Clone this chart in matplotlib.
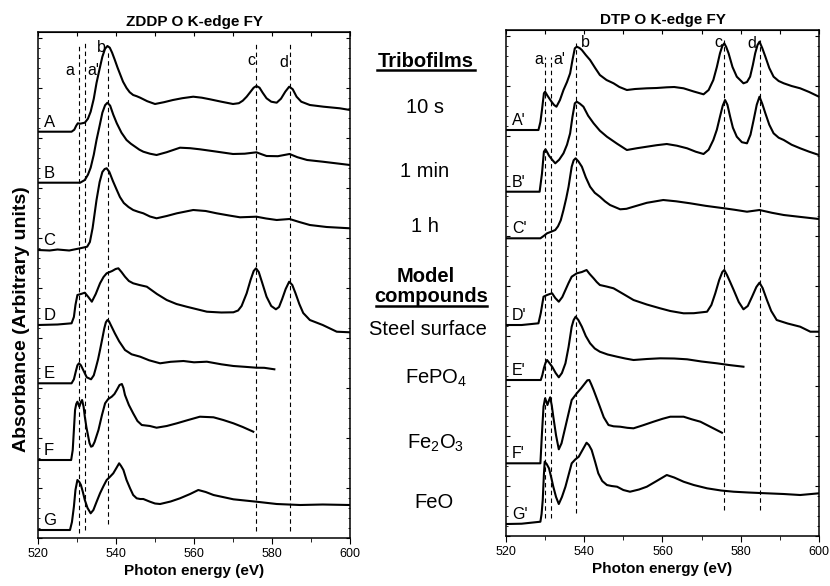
# coding=utf-8
"""
O K-edge FY XANES spectra of ZDDP and DTP tribofilms and model compounds
"""

import matplotlib
matplotlib.use('Agg')
import matplotlib.pyplot as plt
from matplotlib.lines import Line2D
from matplotlib.ticker import MultipleLocator

plt.rcParams['font.family'] = ['Liberation Sans', 'DejaVu Sans']
plt.rcParams['mathtext.fontset'] = 'custom'
plt.rcParams['mathtext.rm'] = 'Liberation Sans'

#  ZDDP spectra (energy in eV, signal above baseline, arbitrary units)
A_e = [520, 525, 528.6, 529.3, 529.8, 530.2, 530.8, 532, 532.8, 533.5, 534.3, 535, 535.8,
       536.5, 537.2, 537.8, 538.4, 539, 539.7, 540.4, 541, 541.8, 542.7, 543.5, 544.4,
       545.3, 546.2, 548, 550, 552.3, 554.6, 557, 559.8, 562, 564.1, 567, 570, 571.5,
       572.5, 573.5, 574.5, 575.3, 576, 576.8, 577.6, 578.6, 579.8, 581.2, 582.3, 583.4,
       584.4, 585.3, 586.3, 587.5, 589.7, 593.2, 597.4, 600]
A_s = [0, 0, 0, 2, 6, 8.4, 8, 9, 13, 20, 33, 48.7, 63,
       75, 83, 85.7, 84, 79, 71.7, 64, 58, 50, 43.7, 39.5, 36.7,
       35.5, 34, 30.5, 27.7, 29.5, 31.7, 33.5, 35, 34, 32.4, 30, 27.7, 28.5,
       31, 35, 40, 44, 45.7, 44, 39, 33.4, 30, 29, 33, 40,
       45, 42.5, 35, 30, 26.7, 25, 23.4, 21.7]
B_e = [520, 525, 530.8, 532, 532.8, 533.5, 534.3, 535, 535.8, 536.5, 537.2, 537.8, 538.5,
       539.3, 540.2, 541.4, 542.7, 543.8, 544.9, 546, 547, 548.7, 550.4, 553, 556.4,
       559, 561.5, 565, 570, 573, 576, 577.3, 578.6, 581.5, 584.5, 586.5, 589, 593, 600]
B_s = [0, 0, 0, 2.7, 8, 15, 28, 42.7, 57, 70, 77.5, 80, 77,
       68, 59.4, 50, 42.7, 39, 36, 33, 31, 29, 27.7, 30.5, 35,
       34.5, 33.4, 31.5, 28.7, 29, 30.4, 28.5, 26.7, 26.5, 28.7, 25.5, 22.7, 21, 17.7]
C_e = [520, 523, 525, 528, 530.8, 532.6, 533.3, 534, 535, 535.8, 536.5, 537.1, 537.6,
       538.3, 539.2, 540.2, 541, 542, 543.2, 544.4, 545.7, 547, 548.7, 550.4, 553,
       555.6, 559.8, 563, 565.8, 569, 571.8, 576, 578.5, 581.2, 584.5, 587, 589.7, 594, 600]
C_s = [0, -0.5, 0.5, -0.5, 1.7, 3.3, 8, 22, 50, 68, 78, 81, 81.7,
       78, 69, 60, 53, 47, 43, 40, 38.2, 36.7, 33.5, 31.7, 34,
       36.7, 40, 39, 36.7, 34.5, 32.7, 33.3, 31.5, 30, 31, 28, 25, 23, 21.7]
D_e = [520, 525, 528.6, 529.2, 529.6, 530.1, 531, 532, 532.9, 533.8, 534.8, 535.9, 536.8,
       537.6, 539, 539.9, 540.6, 541.4, 542.3, 543.3, 544.4, 546, 547.9, 550.5, 553,
       555.5, 558.1, 563.3, 567, 570.1, 571.3, 572.2, 573.5, 574.5, 575.3, 575.9, 576.6,
       577.5, 578.6, 579.8, 581, 581.8, 582.6, 583.5, 584.4, 585.2, 586, 587, 588,
       589.7, 593, 596.6, 600]
D_s = [0, 0.5, 1.7, 8, 20, 30, 31, 32.3, 28, 23.3, 31, 41.7, 48,
       51.7, 54, 56, 56.7, 53, 48.3, 44, 41.7, 40, 38.3, 31, 25,
       21, 18.3, 13.3, 12.5, 12.7, 14.5, 19, 31.7, 45, 54, 56.7, 53,
       42, 28.3, 19, 15.7, 18, 26, 36, 43.3, 40, 32, 21, 12,
       5, 0, -6.7, -7.3]
E_e = [520, 528.6, 529.2, 529.7, 530.1, 530.5, 531, 531.5, 532.5, 533.6, 534.3, 534.8,
       535.4, 535.9, 536.5, 537, 537.4, 537.8, 538.2, 538.7, 539.7, 540.8, 542.3, 544,
       546.2, 548.5, 551.3, 554, 557.3, 560, 563.3, 567, 570.1, 573, 576, 578, 580.6]
E_s = [0, 0, 4, 12, 18, 20, 18, 14, 6, 4, 8, 15,
       24, 33.3, 45, 55, 61, 63.3, 62, 58, 50, 42, 33.3, 29,
       26.6, 23, 20, 21.5, 22.3, 21, 21.6, 19, 17.3, 16.5, 15.6, 15.5, 14]
F_e = [520, 528.5, 528.9, 529.2, 529.5, 529.8, 530.1, 530.6, 531.0, 531.3, 531.7, 532,
       532.4, 532.8, 533.2, 533.6, 534, 534.5, 535.5, 536.4, 537.2, 538, 538.9, 539.6,
       540.2, 540.9, 541.5, 541.9, 542.3, 543.3, 544.4, 545.5, 546.6, 548.7, 550.4,
       553, 555.6, 558.5, 561.5, 565, 567.5, 570.1, 572.5, 575.2]
F_s = [0, 0, 10, 30, 50, 56, 58.3, 53.3, 58, 60, 53, 43.3,
       33, 25, 17, 13.3, 14, 18, 30, 45, 56.7, 61, 63.3, 66,
       70, 75, 76, 72, 65, 55, 46.7, 39, 35, 34, 32.3,
       34, 36.7, 40, 43.3, 42.7, 40, 36.7, 33, 28.3]
G_e = [520, 528.2, 528.7, 529.2, 529.6, 530.1, 530.6, 531, 531.5, 532, 532.7, 533.5,
       534.2, 535, 535.9, 536.8, 537.6, 538.4, 539.3, 540.1, 540.8, 541.3, 541.9, 542.7,
       543.6, 544.4, 545.3, 546.2, 547, 548.7, 550, 551.3, 554, 556.4, 559, 561.1, 563,
       565, 570.1, 576, 581.2, 587.2, 593, 600]
G_s = [0, 0, 8, 23.3, 40, 50, 48, 45, 38, 30, 22, 16.7,
       20, 28, 36.7, 44, 50, 53, 56.7, 62, 66.7, 64, 60, 50,
       41.7, 35, 31.7, 31, 31, 28.3, 26.5, 26, 28.5, 31.7, 36, 40, 38,
       35, 30.7, 28.3, 26, 25, 25.5, 25]

#  DTP spectra
Ap_e = [520, 524, 528.3, 528.8, 529.2, 529.7, 530.0, 530.5, 531, 531.7, 532.3, 532.9,
        533.8, 534.7, 535.6, 536.4, 537, 537.6, 538.1, 538.8, 539.4, 540.4, 541.5, 542.8,
        544, 545.7, 547.5, 549, 550.9, 553, 556, 558.5, 561.1, 563, 565.4, 568, 570.5,
        571.8, 573, 573.9, 574.7, 575.3, 575.8, 576.3, 576.9, 577.9, 579, 580.7, 581.6,
        582.4, 583.1, 583.7, 584.3, 584.8, 585.5, 586.3, 587.3, 588.4, 589.7, 591, 593,
        595.2, 597.5, 600]
Ap_s = [0, 0, 0, 8, 20, 36.7, 38.3, 35, 32, 28, 25, 23.3,
        30, 40, 48, 56.7, 70, 81.7, 83.3, 82, 80, 75, 70, 62,
        55, 50, 46.7, 43, 40, 41, 41.7, 42, 42.7, 43, 41.7, 38.5, 35.7,
        40, 50, 63, 76.7, 84, 86.7, 83, 76.7, 63, 53.3, 46.7, 48,
        53.3, 65, 76.7, 85, 88.3, 82, 73.3, 62, 53.3, 49, 46.7, 44,
        41.7, 38, 33.3]
Bp_e = [520, 524, 528.6, 529.2, 529.7, 530.1, 530.6, 531, 531.8, 532.6, 533.6, 534.7,
        535.6, 536.4, 537, 537.6, 538.1, 538.9, 539.8, 541, 542.4, 544, 545.8, 548.4,
        550.9, 553.5, 556, 558.5, 561.1, 563.7, 566.3, 568.5, 570.5, 571.8, 573, 573.9,
        574.7, 575.4, 576, 576.6, 577.3, 578, 579, 580.3, 581.6, 582.5, 583.3, 584.1,
        584.8, 585.5, 586.3, 587.3, 588.4, 589.7, 591, 593, 595.2, 597.5, 600]
Bp_s = [0, 0, 0, 18, 40, 42.4, 39, 36, 32, 28.4, 32, 38.4,
        47, 58.4, 75, 88.4, 90, 88, 85, 76, 68.4, 61, 55, 48,
        41.7, 43.5, 45, 46.5, 47.7, 46, 43.4, 40, 37.7, 42, 51.7, 62,
        75, 86, 91.7, 87, 75, 64, 55, 49.5, 48.4, 57, 71.7, 87,
        95, 88, 78.4, 67, 58.4, 54, 51.7, 47, 43.4, 40, 36.7]
Cp_e = [520, 524, 528.8, 529.7, 530.5, 531.5, 532.6, 533.3, 534, 534.7, 535.4, 536,
        536.8, 537.3, 537.8, 538.5, 539.4, 540.4, 541.5, 542.7, 544, 545.3, 546.6, 549.2,
        550.8, 552.6, 556, 560.2, 563.5, 567.1, 571, 575.8, 578.5, 581.6, 584.8, 588,
        591, 595, 600]
Cp_s = [0, 0, 0, 2.5, 5, 6.5, 8.3, 12, 18, 28.3, 40, 51.6,
        71.6, 78, 80, 77, 71.6, 61, 51.6, 45.5, 41.6, 37, 33.3, 29,
        29.5, 31.6, 35.5, 38.3, 37, 35, 32.5, 30, 28.5, 26.6, 28.3, 25.5,
        23.3, 21.5, 19.3]
Dp_e = [520, 524, 528.3, 528.9, 529.6, 530.5, 531.2, 531.8, 532.6, 533.5, 534.4, 535.2,
        536, 536.8, 538.1, 539.4, 540.6, 541.4, 542.4, 543.2, 544, 545.7, 547.5, 550,
        552.6, 556, 559.4, 562, 565.4, 568, 571.4, 572.5, 573.5, 574.5, 575.3, 575.8,
        576.5, 577.3, 578.2, 579.5, 580.7, 581.8, 582.9, 584, 584.8, 585.6, 586.7, 587.8,
        589.2, 592, 595.2, 597.8, 600]
Dp_s = [0, 0, 1.7, 12, 28.3, 30, 31, 31.7, 27, 23.3, 28, 35,
        42, 48.3, 51.7, 53, 55, 51, 46.7, 43, 40, 38.5, 36.7, 31,
        25, 20.5, 16.7, 14, 11.7, 11.8, 13.3, 20, 31.7, 45, 53, 55,
        50, 43, 35, 23, 15.7, 19, 28.3, 38, 42.3, 37, 25, 14,
        5, 1.5, -1.7, -6.7, -6.7]
Ep_e = [520, 528.9, 529.3, 529.7, 530.1, 530.5, 531.1, 531.8, 532.7, 533.5, 534.3, 535.2,
        536, 536.8, 537.3, 537.8, 538.5, 539.4, 540.4, 541.5, 542.7, 544, 546, 548.4,
        550.5, 552.6, 556, 559.4, 563, 566.3, 570, 573.9, 577, 580.7]
Ep_s = [0, 0, 5, 12, 17, 20, 17, 13.3, 7, 2.7, 7, 16.7,
        33, 53.3, 60, 63.3, 60, 53.3, 44, 36.7, 31.5, 28.3, 25.5, 23.3,
        21.5, 20, 21, 21.7, 21.5, 20.7, 18.5, 16.7, 15, 13.3]
Fp_e = [520, 528.8, 529.2, 529.6, 530.0, 530.3, 530.6, 531.0, 531.3, 531.7, 532.1, 532.8,
        533.5, 534.2, 535.2, 536, 536.8, 538.1, 539.2, 540.2, 540.8, 541.3, 541.8, 542.4,
        543.2, 544, 545, 546.2, 547.5, 549.2, 551, 552.6, 555, 557.7, 560, 562, 565.4,
        567.5, 569.7, 572.5, 575.2]
Fp_s = [0, 0, 30, 56.6, 65, 62, 58.3, 63, 66, 58, 46.6, 28,
        14, 20, 36.6, 50, 63.3, 70, 75, 80, 83, 83.3, 79, 73.3,
        65, 56.6, 46, 38.3, 37, 36.6, 35.5, 35, 38, 41.6, 44.5, 46.6, 46.6,
        44, 41.6, 36, 30.6]
Gp_e = [520, 524, 528.8, 529.1, 529.4, 529.7, 529.9, 530.4, 531, 531.6, 532.1, 532.8,
        533.5, 534.3, 535.2, 536, 536.8, 537.7, 538.6, 539.7, 540.6, 541.2, 541.9, 542.8,
        543.6, 544.6, 545.8, 547, 548.4, 550, 551.7, 554, 556, 558.5, 561.1, 563, 565.4,
        568, 571.4, 575, 578.2, 582, 586.7, 591, 595.2, 600]
Gp_s = [0, 0.3, 2.3, 10, 24, 50, 62.3, 60, 55.7, 46, 37.3, 27,
        20, 27, 37.3, 49, 60.7, 64.5, 67.3, 75, 81.3, 79, 74, 62,
        50.7, 43, 39, 38, 37.3, 34, 32.3, 34.5, 37.3, 43, 49, 46.5, 42.3,
        39, 35.7, 33.5, 32.3, 31.5, 30.7, 30, 29, 30.7]

zddp_names = ['A', 'B', 'C', 'D', 'E', 'F', 'G']
zddp_offsets = [406.3, 355.3, 288, 213, 154.7, 78, 8]
dtp_names = ["A'", "B'", "C'", "D'", "E'", "F'", "G'"]
dtp_offsets = [406, 344.3, 297.7, 211, 156, 72.7, 12]

#  peak positions (eV) marked by dashed lines
peak_names = ['a', "a'", 'b', 'c', 'd']
zddp_peaks = [530.6, 532.1, 538.0, 575.9, 584.5]
dtp_peaks = [530.1, 531.5, 537.8, 575.8, 585.0]

#  sample names in the middle column
film_labels = ['10 s', '1 min', '1 h']
model_labels = ['Steel surface', 'FePO$_4$', 'Fe$_2$O$_3$', 'FeO']


def style_axes(ax, title):
    ax.set_xlim(520, 600)
    ax.set_ylim(0, 506)
    ax.set_title(title, fontsize=11, fontweight='bold', pad=4)
    ax.set_xlabel('Photon energy (eV)', fontsize=11, fontweight='bold', labelpad=3)
    ax.xaxis.set_major_locator(MultipleLocator(20))
    ax.xaxis.set_minor_locator(MultipleLocator(10))
    ax.yaxis.set_major_locator(MultipleLocator(50))
    ax.yaxis.set_minor_locator(MultipleLocator(10))
    ax.tick_params(axis='x', which='both', direction='out', top=False, labelsize=9,
                   pad=3)
    ax.tick_params(axis='x', which='major', length=4)
    ax.tick_params(axis='x', which='minor', length=3)
    ax.tick_params(axis='y', which='both', direction='in', left=True, right=True,
                   labelleft=False)
    ax.tick_params(axis='y', which='major', length=3)
    ax.tick_params(axis='y', which='minor', length=1.5)
    sec = ax.secondary_xaxis('top')
    sec.xaxis.set_major_locator(MultipleLocator(10))
    sec.tick_params(direction='in', length=3, labeltop=False)
    for s in ax.spines.values():
        s.set_linewidth(1.1)


fig = plt.figure(figsize=(8.3, 5.86), dpi=100)
ax1 = fig.add_axes([0.0458, 0.0819, 0.3759, 0.8635])
ax2 = fig.add_axes([0.6096, 0.0853, 0.3771, 0.8635])

zddp = [(A_e, A_s), (B_e, B_s), (C_e, C_s), (D_e, D_s), (E_e, E_s), (F_e, F_s), (G_e, G_s)]
dtp = [(Ap_e, Ap_s), (Bp_e, Bp_s), (Cp_e, Cp_s), (Dp_e, Dp_s), (Ep_e, Ep_s),
       (Fp_e, Fp_s), (Gp_e, Gp_s)]

for (e, s), off, name in zip(zddp, zddp_offsets, zddp_names):
    ax1.plot(e, [v + off for v in s], color='black', lw=1.5, solid_joinstyle='round')
    ax1.text(521.4, off + 2, name, fontsize=12, va='bottom', ha='left')

for (e, s), off, name in zip(dtp, dtp_offsets, dtp_names):
    ax2.plot(e, [v + off for v in s], color='black', lw=1.5, solid_joinstyle='round')
    ax2.text(521.5, off + 2, name, fontsize=11.5, va='bottom', ha='left')

#  dashed guide lines
zddp_vspan = [(5, 493), (8, 496), (14, 486), (7, 495), (7, 495)]
dtp_vspan = [(18, 479), (18, 479), (23, 493), (26, 496), (26, 496)]
for x, (y0, y1) in zip(zddp_peaks, zddp_vspan):
    ax1.plot([x, x], [y0, y1], color='black', lw=0.8, ls=(0, (4, 3)))
for x, (y0, y1) in zip(dtp_peaks, dtp_vspan):
    ax2.plot([x, x], [y0, y1], color='black', lw=0.8, ls=(0, (4, 3)))

zddp_label_pos = [(528.2, 467), (534.2, 467), (536.2, 490), (574.8, 477), (583.1, 475)]
dtp_label_pos = [(528.5, 477), (533.6, 477), (540.2, 494), (574.2, 494), (582.8, 493)]
for name, (x, y) in zip(peak_names, zddp_label_pos):
    ax1.text(x, y, name, fontsize=11.5, ha='center', va='center')
for name, (x, y) in zip(peak_names, dtp_label_pos):
    ax2.text(x, y, name, fontsize=11.5, ha='center', va='center')

style_axes(ax1, 'ZDDP O K-edge FY')
style_axes(ax2, 'DTP O K-edge FY')

fig.text(0.0265, 0.456, 'Absorbance (Arbitrary units)', rotation=90, fontsize=14,
         fontweight='bold', ha='center', va='center')

#  middle column of sample names (figure pixel positions / 830 x 586)
W, H = 830.0, 586.0
fig.text(426 / W, 1 - 66.7 / H, 'Tribofilms', fontsize=14.5, fontweight='bold',
         ha='center', va='baseline')
fig.add_artist(Line2D([377 / W, 475 / W], [1 - 69.5 / H, 1 - 69.5 / H], color='black', lw=1.8))
for lab, yb in zip(film_labels, [113.3, 176.7, 231.7]):
    fig.text(425 / W, 1 - yb / H, lab, fontsize=14.5, ha='center', va='baseline')
fig.text(426 / W, 1 - 281.7 / H, 'Model', fontsize=14.5, fontweight='bold',
         ha='center', va='baseline')
fig.text(431 / W, 1 - 301.7 / H, 'compounds', fontsize=14.5, fontweight='bold',
         ha='center', va='baseline')
fig.add_artist(Line2D([376 / W, 487 / W], [1 - 305.5 / H, 1 - 305.5 / H], color='black', lw=1.8))
for lab, x, yb in zip(model_labels, [428, 436, 436, 434], [335, 383.3, 448.3, 508.3]):
    fig.text(x / W, 1 - yb / H, lab, fontsize=14.5, ha='center', va='baseline')

fig.savefig('out.png', dpi=100)
